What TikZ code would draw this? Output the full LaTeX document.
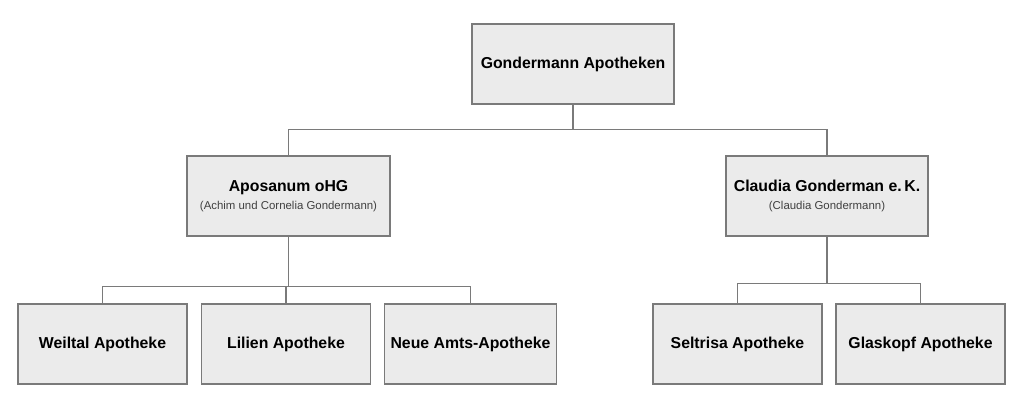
\documentclass[tikz,border=0pt]{standalone}
\usepackage{fontspec}
\setmainfont{Liberation Sans}
\usetikzlibrary{positioning}
\definecolor{boxfill}{HTML}{EBEBEB}
\definecolor{boxline}{HTML}{7A7A7A}
\newcommand{\ownerline}{\mdseries\fontsize{6.5}{8}\selectfont\color{black!75}}
\tikzset{
  unit/.style={draw=boxline, fill=boxfill, line width=0.8pt, minimum width=3.4cm, minimum height=1.6cm, align=center, font=\bfseries\fontsize{9}{11}\selectfont},
  shop/.style={unit, minimum width=3.38cm},
  link/.style={draw=boxline, line width=0.8pt}
}
\begin{document}
\begin{tikzpicture}[x=0.02cm, y=-0.02cm]
  \useasboundingbox (0,0) rectangle (1024,410);
  % owners
  \node[unit, minimum width=4.04cm] (top) at (573,64) {Gondermann Apotheken};
  \node[unit, minimum width=4.06cm] (aposanum) at (288.5,196) {Aposanum oHG\\[-1pt]{\ownerline (Achim und Cornelia Gondermann)}};
  \node[unit, minimum width=4.04cm] (claudia) at (827,196) {Claudia Gonderman e.\,K.\\[-1pt]{\ownerline (Claudia Gondermann)}};
  % pharmacies
  \node[shop] (weiltal) at (102.5,344) {Weiltal Apotheke};
  \node[shop] (lilien) at (286,344) {Lilien Apotheke};
  \node[shop] (amts) at (470.5,344) {Neue Amts-Apotheke};
  \node[shop] (seltrisa) at (737.5,344) {Seltrisa Apotheke};
  \node[shop] (glaskopf) at (920.5,344) {Glaskopf Apotheke};
  % connectors
  \draw[link] (top.south) -- ++(0,25) -| (aposanum.north);
  \draw[link] (top.south) -- ++(0,25) -| (claudia.north);
  \draw[link] (aposanum.south) -- ++(0,50) coordinate (a);
  \draw[link] (a) -| (weiltal.north);
  \draw[link] (a) -| (lilien.north);
  \draw[link] (a) -| (amts.north);
  \draw[link] (claudia.south) -- ++(0,47) coordinate (c);
  \draw[link] (c) -| (seltrisa.north);
  \draw[link] (c) -| (glaskopf.north);
\end{tikzpicture}
\end{document}
